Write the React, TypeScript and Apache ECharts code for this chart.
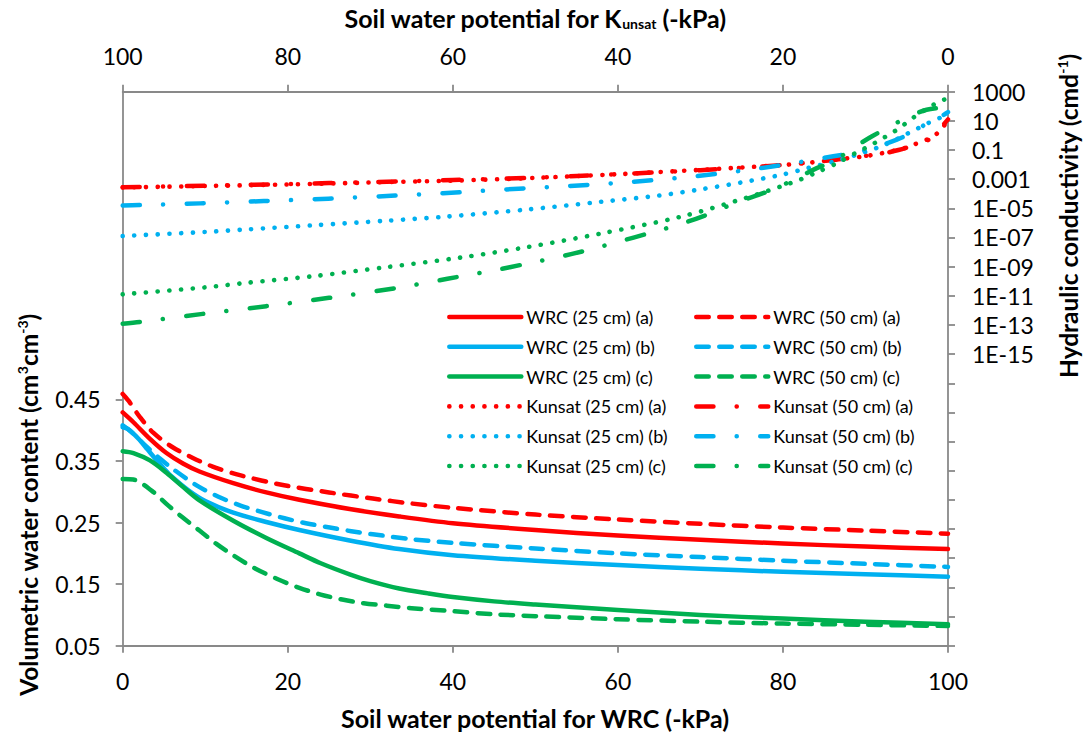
import React, { useEffect, useRef } from "react";
import * as echarts from "echarts";

// ---- Water retention curves (bottom axis: soil water potential, -kPa ; left axis: volumetric water content) ----
const psiWrc25a = [0, 1.3, 3.3, 5.3, 7.3, 9.3, 13.4, 17.4, 21.4, 27.5, 33.5, 40, 50, 60, 70, 80, 90, 100];
const wrc25a = [0.429, 0.413, 0.386, 0.363, 0.346, 0.333, 0.314, 0.299, 0.287, 0.272, 0.26, 0.249, 0.238, 0.229, 0.222, 0.216, 0.211, 0.207];

const psiWrc50a = [0, 0.7, 2, 3.7, 6.1, 8.5, 10.9, 14.2, 19.4, 25, 30.3, 35, 40, 50, 60, 70, 80, 90, 100];
const wrc50a = [0.459, 0.448, 0.423, 0.396, 0.372, 0.355, 0.341, 0.327, 0.311, 0.299, 0.289, 0.281, 0.274, 0.263, 0.255, 0.248, 0.242, 0.237, 0.232];

const psiWrc25b = [0, 1, 2, 3, 4, 5, 6, 8, 10, 13.4, 17.4, 21.4, 27.5, 33.5, 40, 50, 60, 70, 80, 90, 100];
const wrc25b = [0.408, 0.398, 0.385, 0.369, 0.353, 0.338, 0.324, 0.302, 0.285, 0.266, 0.251, 0.238, 0.221, 0.207, 0.197, 0.188, 0.181, 0.175, 0.17, 0.166, 0.162];

const psiWrc50b = [0, 0.65, 2.6, 4.5, 6.3, 9, 11.6, 14.2, 16.9, 19.6, 22.2, 25.1, 27.7, 30.3, 35, 40, 50, 60, 70, 80, 90, 100];
const wrc50b = [0.405, 0.402, 0.377, 0.354, 0.335, 0.31, 0.292, 0.278, 0.267, 0.257, 0.249, 0.242, 0.236, 0.231, 0.223, 0.217, 0.208, 0.2, 0.194, 0.188, 0.183, 0.178];

const psiWrc25c = [0, 1.3, 3.3, 5.3, 7.3, 9.3, 13.4, 17.4, 21.4, 24, 27.5, 30, 33.5, 37, 40, 45, 50, 60, 70, 80, 90, 100];
const wrc25c = [0.366, 0.363, 0.351, 0.331, 0.308, 0.286, 0.253, 0.225, 0.2, 0.184, 0.166, 0.155, 0.143, 0.135, 0.129, 0.122, 0.117, 0.108, 0.1, 0.094, 0.089, 0.085];

const psiWrc50c = [0, 1.3, 3.5, 5.5, 7.2, 9.3, 11.4, 13.6, 16.1, 18.8, 21.4, 24, 26.6, 29.2, 32, 35, 40, 45, 50, 60, 70, 80, 90, 100];
const wrc50c = [0.321, 0.32, 0.302, 0.278, 0.259, 0.237, 0.215, 0.195, 0.175, 0.158, 0.144, 0.133, 0.125, 0.119, 0.115, 0.111, 0.106, 0.101, 0.098, 0.093, 0.089, 0.086, 0.084, 0.082];

// ---- Unsaturated hydraulic conductivity (top axis: soil water potential, -kPa ; right axis: log10 K, cm/d) ----
const psiK25a = [100, 90, 80, 70, 60, 50, 40, 30, 25, 20, 17, 13, 10, 8, 6, 4.6, 3.4, 2, 1, 0.5, 0];
const logK25a = [-3.57, -3.47, -3.36, -3.23, -3.1, -2.91, -2.66, -2.36, -2.2, -2.03, -1.88, -1.62, -1.42, -1.22, -0.98, -0.75, -0.45, -0.15, 0.3, 0.65, 1.05];

const psiK50a = [100, 90, 80, 70, 60, 50, 40, 30, 25, 20, 15, 10, 8, 6, 4, 2, 1.4, 0.7, 0];
const logK50a = [-3.55, -3.45, -3.33, -3.2, -3.06, -2.9, -2.66, -2.38, -2.22, -2.02, -1.75, -1.4, -1.25, -1.0, -0.65, -0.2, 0.25, 0.65, 1.1];

const psiK25b = [100, 90, 85, 77, 68, 61, 51, 42, 35, 30, 25, 20, 17, 13, 10, 8, 6, 5, 3.8, 2.4, 1, 0];
const logK25b = [-6.9, -6.62, -6.45, -6.17, -5.85, -5.58, -5.08, -4.55, -4.12, -3.7, -3.22, -2.68, -2.24, -1.67, -1.12, -0.72, -0.2, 0.1, 0.44, 0.85, 1.2, 1.6];

const psiK50b = [100, 98, 90.6, 82.9, 75.1, 67.5, 61.2, 53.5, 45.9, 38.1, 30.5, 22.9, 18.9, 16.3, 13.9, 11, 9.1, 6.2, 4, 2.5, 1, 0];
const logK50b = [-4.8, -4.78, -4.66, -4.5, -4.34, -4.14, -3.97, -3.7, -3.47, -3.18, -2.79, -2.26, -1.92, -1.67, -1.43, -1.15, -0.86, -0.29, 0.3, 0.85, 1.25, 1.6];

const psiK25c = [100, 90, 85, 77, 68, 59, 51, 42, 32.4, 24.4, 20, 18, 16, 13.4, 11, 9.6, 8.4, 7, 6, 4.8, 3.7, 2.5, 1.4, 0];
const logK25c = [-10.9, -10.42, -10.11, -9.66, -9.03, -8.37, -7.66, -6.72, -5.58, -4.27, -3.45, -3.05, -2.56, -1.89, -1.14, -0.75, -0.36, 0.1, 0.46, 0.97, 1.42, 1.85, 2.22, 2.57];

const psiK50c = [100, 97.9, 90.3, 82.6, 75, 66.9, 62.6, 58.7, 54.9, 51.3, 47.4, 43.7, 39.9, 36.3, 32.4, 28.8, 25.4, 21.9, 18.9, 15.9, 13.9, 11.4, 9.2, 7, 4.65, 2.6, 0.2, 0];
const logK50c = [-12.92, -12.79, -12.24, -11.71, -11.14, -10.47, -10.04, -9.63, -9.24, -8.83, -8.37, -7.87, -7.29, -6.72, -6.08, -5.35, -4.55, -3.86, -3.1, -2.24, -1.78, -0.82, -0.06, 0.63, 1.31, 1.76, 1.93, 1.95];

// ---- Axis ticks / labels ----
const bottomTicks = [0, 20, 40, 60, 80, 100];
const leftTickValues = [0.05, 0.15, 0.25, 0.35, 0.45];
const rightTickExponents = [-35, -33, -31, -29, -27, -25, -23, -21, -19, -17, -15, -13, -11, -9, -7, -5, -3, -1, 1, 3];
const rightLabelExponents = [-15, -13, -11, -9, -7, -5, -3, -1, 1, 3];

const RED = "#FF0000";
const BLUE = "#00B0F0";
const GREEN = "#00B050";
const AXIS = "#898989";
const FONT = "Lato";

const DASH = [12.5, 10.5];
const DOT = [0.1, 11.6];
const DASHDOT = [17.2, 23.2, 0.1, 23.5];

function fmtK(v: number): string {
  const e = Math.round(v);
  if (e >= 0) return String(Math.pow(10, e));
  if (e >= -3) return Math.pow(10, e).toFixed(-e);
  const a = Math.abs(e);
  return "1E-" + (a < 10 ? "0" + a : String(a));
}

function line(name: string, xs: number[], ys: number[], color: string, type: any, width: number, k: boolean) {
  return {
    type: "line",
    name,
    xAxisIndex: k ? 1 : 0,
    yAxisIndex: k ? 1 : 0,
    data: xs.map((x, i) => [x, ys[i]]),
    symbol: "none",
    smooth: 0.3,
    clip: false,
    lineStyle: { color, width, type, cap: "round", join: "round" },
    itemStyle: { color },
    emphasis: { disabled: true },
  };
}

export default function App() {
  const ref = useRef<HTMLDivElement>(null);
  useEffect(() => {
    if (!ref.current) return;
    const chart = echarts.init(ref.current, null, { renderer: "svg" });
    const tickLabel = { fontFamily: FONT, fontSize: 23, color: "#000" };
    const axisLine = { show: true, onZero: false, lineStyle: { color: AXIS, width: 1.8 } };
    const axisTick = { show: true, length: 7, lineStyle: { color: AXIS, width: 1.8 } };
    const legendBase = {
      orient: "vertical",
      top: 308,
      padding: 0,
      itemWidth: 72,
      itemHeight: 14,
      itemGap: 11.8,
      textStyle: { fontFamily: FONT, fontSize: 18, lineHeight: 14, color: "#000" },
      lineStyle: { width: "inherit", cap: "round" },
      itemStyle: { opacity: 0 },
    };
    const titleFont = { fontFamily: FONT, fontSize: 25, fontWeight: "bold", fill: "#000" };
    const sideTitleFont = { ...titleFont, fontSize: 24.5 };
    chart.setOption({
      animation: false,
      backgroundColor: "#fff",
      grid: { left: 122.7, right: 138, top: 91.7, bottom: 88.3, containLabel: false },
      xAxis: [
        {
          type: "value",
          position: "bottom",
          min: 0,
          max: 100,
          interval: 20,
          axisLine,
          axisTick: { ...axisTick, customValues: bottomTicks },
          axisLabel: { ...tickLabel, margin: 24, customValues: bottomTicks },
          splitLine: { show: false },
        },
        {
          type: "value",
          position: "top",
          inverse: true,
          min: 0,
          max: 100,
          interval: 20,
          axisLine,
          axisTick: { ...axisTick, customValues: bottomTicks },
          axisLabel: { ...tickLabel, margin: 24, customValues: bottomTicks },
          splitLine: { show: false },
        },
      ],
      yAxis: [
        {
          type: "value",
          position: "left",
          min: 0.05,
          max: 0.95,
          axisLine,
          axisTick: { ...axisTick, customValues: leftTickValues },
          axisLabel: {
            ...tickLabel,
            margin: 22,
            customValues: leftTickValues,
            formatter: (v: number) => v.toFixed(2),
          },
          splitLine: { show: false },
        },
        {
          type: "value",
          position: "right",
          min: -35,
          max: 3,
          axisLine,
          axisTick: { ...axisTick, customValues: rightTickExponents },
          axisLabel: { ...tickLabel, margin: 24, customValues: rightLabelExponents, formatter: fmtK },
          splitLine: { show: false },
        },
      ],
      legend: [
        {
          ...legendBase,
          left: 447,
          data: ["WRC (25 cm) (a)", "WRC (25 cm) (b)", "WRC (25 cm) (c)", "Kunsat (25 cm) (a)", "Kunsat (25 cm) (b)", "Kunsat (25 cm) (c)"],
        },
        {
          ...legendBase,
          left: 694,
          data: ["WRC (50 cm) (a)", "WRC (50 cm) (b)", "WRC (50 cm) (c)", "Kunsat (50 cm) (a)", "Kunsat (50 cm) (b)", "Kunsat (50 cm) (c)"],
        },
      ],
      series: [
        line("WRC (25 cm) (a)", psiWrc25a, wrc25a, RED, "solid", 4.5, false),
        line("WRC (50 cm) (a)", psiWrc50a, wrc50a, RED, DASH, 4.5, false),
        line("WRC (25 cm) (b)", psiWrc25b, wrc25b, BLUE, "solid", 4.5, false),
        line("WRC (50 cm) (b)", psiWrc50b, wrc50b, BLUE, DASH, 4.5, false),
        line("WRC (25 cm) (c)", psiWrc25c, wrc25c, GREEN, "solid", 4.5, false),
        line("WRC (50 cm) (c)", psiWrc50c, wrc50c, GREEN, DASH, 4.5, false),
        line("Kunsat (25 cm) (a)", psiK25a, logK25a, RED, DOT, 4.6, true),
        line("Kunsat (50 cm) (a)", psiK50a, logK50a, RED, DASHDOT, 4.5, true),
        line("Kunsat (25 cm) (b)", psiK25b, logK25b, BLUE, DOT, 4.6, true),
        line("Kunsat (50 cm) (b)", psiK50b, logK50b, BLUE, DASHDOT, 4.5, true),
        line("Kunsat (25 cm) (c)", psiK25c, logK25c, GREEN, DOT, 4.6, true),
        line("Kunsat (50 cm) (c)", psiK50c, logK50c, GREEN, DASHDOT, 4.5, true),
      ],
      graphic: [
        {
          type: "text",
          x: 535,
          y: 718,
          style: { ...titleFont, text: "Soil water potential for WRC (-kPa)", align: "center", verticalAlign: "middle" },
        },
        {
          type: "text",
          x: 535,
          y: 18,
          style: {
            ...titleFont,
            text: "Soil water potential for K{sub|unsat} (-kPa)",
            align: "center",
            verticalAlign: "middle",
            rich: { sub: { fontFamily: FONT, fontSize: 14, fontWeight: "bold", verticalAlign: "bottom", lineHeight: 14, padding: [12, 0, 0, 0] } },
          },
        },
        {
          type: "text",
          x: 28,
          y: 505,
          rotation: Math.PI / 2,
          style: {
            ...sideTitleFont,
            text: "Volumetric water content (cm{sup|3}cm{sup|-3})",
            align: "center",
            verticalAlign: "middle",
            rich: { sup: { fontFamily: FONT, fontSize: 14, fontWeight: "bold", verticalAlign: "top", lineHeight: 14, padding: [0, 0, 10, 0] } },
          },
        },
        {
          type: "text",
          x: 1068,
          y: 216,
          rotation: Math.PI / 2,
          style: {
            ...sideTitleFont,
            text: "Hydraulic conductivity (cmd{sup|-1})",
            align: "center",
            verticalAlign: "middle",
            rich: { sup: { fontFamily: FONT, fontSize: 14, fontWeight: "bold", verticalAlign: "top", lineHeight: 14, padding: [0, 0, 10, 0] } },
          },
        },
      ],
    });
    return () => chart.dispose();
  }, []);
  return <div ref={ref} style={{ position: "fixed", left: 0, top: 0, width: 1086, height: 734, background: "#fff" }} />;
}
